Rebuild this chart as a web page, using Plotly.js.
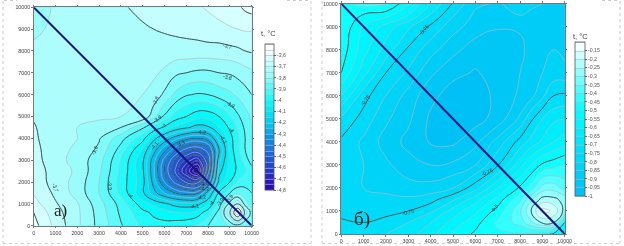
<!DOCTYPE html>
<html><head><meta charset="utf-8">
<script src="https://cdn.plot.ly/plotly-3.0.1.min.js"></script>
<style>html,body{margin:0;padding:0;background:#fff;overflow:hidden}#c{width:624px;height:246px;filter:blur(0.5px)}</style>
</head><body><div id="c"></div>
<script>
var leftX=[0,1000,2000,3000,4000,5000,5500,6000,6500,7000,7500,8000,8500,9000,9350,9700,10000];
var leftY=[0,600,1000,1500,2000,2500,3000,3500,4000,4500,5000,6000,7000,8000,9000,10000];
var leftZ=[
[-3.58,-3.665,-3.74,-3.815,-3.895,-3.96,-3.98,-3.98,-3.97,-3.96,-3.94,-3.9,-3.88,-3.84,-3.82,-3.85,-3.85],
[-3.6,-3.68,-3.74,-3.82,-3.91,-3.985,-4.01,-4.03,-4.045,-4.05,-4.03,-3.97,-3.88,-3.7,-3.5,-3.72,-3.82],
[-3.63,-3.695,-3.745,-3.83,-3.92,-4.03,-4.06,-4.09,-4.12,-4.13,-4.12,-4.05,-3.93,-3.78,-3.7,-3.82,-3.88],
[-3.655,-3.71,-3.77,-3.85,-3.96,-4.09,-4.18,-4.25,-4.3,-4.33,-4.32,-4.17,-3.99,-3.9,-3.86,-3.88,-3.9],
[-3.67,-3.72,-3.77,-3.85,-3.97,-4.08,-4.22,-4.35,-4.47,-4.56,-4.58,-4.37,-4.08,-4.0,-3.94,-3.92,-3.93],
[-3.675,-3.72,-3.76,-3.84,-3.96,-4.09,-4.24,-4.4,-4.56,-4.71,-4.86,-4.48,-4.12,-4.03,-3.99,-3.95,-3.92],
[-3.68,-3.73,-3.77,-3.83,-3.95,-4.09,-4.23,-4.37,-4.51,-4.62,-4.69,-4.5,-4.16,-4.04,-3.98,-3.92,-3.88],
[-3.685,-3.73,-3.76,-3.81,-3.92,-4.05,-4.17,-4.28,-4.38,-4.46,-4.49,-4.42,-4.2,-4.03,-3.96,-3.9,-3.85],
[-3.69,-3.735,-3.75,-3.795,-3.88,-3.98,-4.08,-4.16,-4.23,-4.28,-4.3,-4.27,-4.13,-4.02,-3.96,-3.9,-3.85],
[-3.695,-3.735,-3.75,-3.77,-3.8,-3.89,-3.96,-4.01,-4.06,-4.09,-4.12,-4.11,-4.05,-3.99,-3.94,-3.89,-3.85],
[-3.705,-3.74,-3.745,-3.74,-3.75,-3.76,-3.83,-3.91,-3.97,-4.0,-4.03,-4.03,-4.0,-3.95,-3.91,-3.87,-3.84],
[-3.72,-3.73,-3.73,-3.73,-3.735,-3.75,-3.77,-3.81,-3.86,-3.895,-3.905,-3.9,-3.88,-3.86,-3.84,-3.82,-3.8],
[-3.73,-3.73,-3.73,-3.73,-3.73,-3.735,-3.74,-3.76,-3.79,-3.8,-3.81,-3.81,-3.8,-3.795,-3.785,-3.77,-3.76],
[-3.74,-3.73,-3.725,-3.72,-3.72,-3.72,-3.72,-3.72,-3.72,-3.72,-3.72,-3.72,-3.72,-3.715,-3.71,-3.7,-3.695],
[-3.76,-3.74,-3.72,-3.715,-3.71,-3.705,-3.7,-3.695,-3.69,-3.685,-3.68,-3.67,-3.665,-3.655,-3.65,-3.645,-3.645],
[-3.79,-3.74,-3.72,-3.71,-3.705,-3.69,-3.68,-3.675,-3.67,-3.66,-3.655,-3.645,-3.63,-3.62,-3.61,-3.59,-3.58]
];
var rightX=[0,1000,2000,3000,4000,5000,6000,7000,8000,8500,9000,9500,10000];
var rightY=[0,500,1000,1500,2000,3000,4000,5000,6000,7000,8000,9000,9500,10000];
var rightZ=[
[-0.73,-0.73,-0.7,-0.67,-0.62,-0.54,-0.49,-0.46,-0.455,-0.46,-0.48,-0.51,-0.56],
[-0.745,-0.75,-0.73,-0.7,-0.65,-0.58,-0.52,-0.44,-0.38,-0.31,-0.24,-0.25,-0.5],
[-0.76,-0.77,-0.77,-0.75,-0.71,-0.63,-0.56,-0.48,-0.36,-0.25,-0.13,-0.16,-0.27],
[-0.77,-0.79,-0.79,-0.79,-0.77,-0.71,-0.62,-0.53,-0.41,-0.31,-0.23,-0.235,-0.27],
[-0.78,-0.8,-0.81,-0.83,-0.83,-0.8,-0.72,-0.6,-0.49,-0.42,-0.33,-0.32,-0.37],
[-0.77,-0.8,-0.84,-0.88,-0.9,-0.89,-0.85,-0.755,-0.62,-0.55,-0.49,-0.47,-0.45],
[-0.76,-0.81,-0.87,-0.915,-0.955,-0.96,-0.915,-0.83,-0.73,-0.68,-0.64,-0.6,-0.57],
[-0.71,-0.77,-0.84,-0.89,-0.96,-0.985,-0.97,-0.93,-0.84,-0.76,-0.7,-0.66,-0.65],
[-0.6,-0.73,-0.8,-0.87,-0.935,-0.975,-0.97,-0.94,-0.89,-0.865,-0.81,-0.75,-0.74],
[-0.5,-0.63,-0.75,-0.81,-0.89,-0.935,-0.955,-0.93,-0.9,-0.875,-0.85,-0.83,-0.83],
[-0.47,-0.58,-0.67,-0.76,-0.83,-0.885,-0.925,-0.935,-0.91,-0.885,-0.865,-0.85,-0.87],
[-0.46,-0.55,-0.62,-0.69,-0.76,-0.83,-0.875,-0.895,-0.895,-0.875,-0.865,-0.865,-0.87],
[-0.46,-0.505,-0.53,-0.6,-0.705,-0.795,-0.86,-0.88,-0.85,-0.86,-0.865,-0.87,-0.865],
[-0.47,-0.43,-0.44,-0.54,-0.65,-0.755,-0.84,-0.855,-0.83,-0.84,-0.85,-0.86,-0.86]
];
var diagX=[0,10000], diagY=[10000,0];
var leftBarVals=[-3.6,-3.7,-3.8,-3.9,-4,-4.1,-4.2,-4.3,-4.4,-4.5,-4.6,-4.7,-4.8];
var leftBarText=["-3,6","-3,7","-3,8","-3,9","-4","-4,1","-4,2","-4,3","-4,4","-4,5","-4,6","-4,7","-4,8"];
var rightBarVals=[-0.15,-0.2,-0.25,-0.3,-0.35,-0.4,-0.45,-0.5,-0.55,-0.6,-0.65,-0.7,-0.75,-0.8,-0.85,-0.9,-0.95,-1];
var rightBarText=["-0,15","-0,2","-0,25","-0,3","-0,35","-0,4","-0,45","-0,5","-0,55","-0,6","-0,65","-0,7","-0,75","-0,8","-0,85","-0,9","-0,95","-1"];
var leftLabels=[
["-3,7",8900,8244,18],["-3,8",8900,6794,15],["-3,9",9006,5557,30],["-3,8",5566,5710,-65],["-3,9",5673,4870,-40],
["-4",5948,4580,-40],["-4",9083,4366,50],["-4,1",8700,3954,60],["-4,2",7676,4275,5],["-4,3",6713,3756,-30],
["-4,1",5520,3649,-50],["-3,8",2768,3435,-70],["-3,9",3517,1832,85],["-4",4465,1420,55],["-3,7",979,1756,70],
["-4,4",7813,1893,0],["-4,3",7813,1664,0],["-4,2",7676,1328,-5],["-4,1",7355,916,-8],["-4",8135,1023,-45],
["-3,9",8547,1069,-55],["-3,8",8976,1221,-60]];
var rightLabels=[["-0,75",3687,8857,-50],["-0,75",1075,5818,-50],["-0,75",6522,2706,-25],["-0,75",2970,970,-15],["-0,5",6866,1114,-50]];

var leftScale=[[0,'rgb(45,0,190)'],[0.0769,'rgb(40,30,195)'],[0.1538,'rgb(35,60,205)'],[0.2308,'rgb(30,90,215)'],[0.3077,'rgb(25,120,225)'],[0.3846,'rgb(10,150,230)'],[0.4615,'rgb(0,195,240)'],[0.5385,'rgb(0,225,245)'],[0.6154,'rgb(0,250,250)'],[0.6538,'rgb(30,250,250)'],[0.6923,'rgb(60,250,250)'],[0.7308,'rgb(90,250,250)'],[0.7692,'rgb(120,250,250)'],[0.8077,'rgb(150,252,252)'],[0.8462,'rgb(165,253,253)'],[0.8846,'rgb(190,254,254)'],[0.9231,'rgb(205,255,255)'],[1,'rgb(255,255,255)']];
var rightScale=[[0,'rgb(0,190,245)'],[0.2778,'rgb(0,220,250)'],[0.5556,'rgb(0,255,255)'],[0.7778,'rgb(130,255,255)'],[0.9444,'rgb(225,255,255)'],[1,'rgb(255,255,255)']];

var W=624,H=246;
function dx(a,b){return [a/W,b/W];}
function dy(top,bot){return [1-bot/H,1-top/H];}
var GREY='rgba(170,190,195,0.85)', DARK='#37595f';
var barFont={family:'Liberation Sans',size:5.2,color:'#555'};
var data=[
{type:'contour',x:leftX,y:leftY,z:leftZ,xaxis:'x',yaxis:'y',zmin:-4.8,zmax:-3.5,autocontour:false,colorscale:leftScale,
 contours:{start:-4.8,end:-3.5,size:0.05,coloring:'fill'},line:{color:GREY,width:0.8,smoothing:1.3},hoverinfo:'skip',
 colorbar:{x:265/W,xanchor:'left',xpad:0,ypad:0,y:1-44/H,yanchor:'top',lenmode:'pixels',len:146,thicknessmode:'pixels',thickness:9,
  tickmode:'array',tickvals:leftBarVals,ticktext:leftBarText,ticks:'outside',ticklen:2,tickcolor:'#666',tickfont:barFont,outlinecolor:'#555',outlinewidth:0.8}},
{type:'contour',x:leftX,y:leftY,z:leftZ,xaxis:'x',yaxis:'y',autocontour:false,showscale:false,
 contours:{start:-4.8,end:-3.6,size:0.1,coloring:'none'},line:{color:DARK,width:1,smoothing:1.3},hoverinfo:'skip'},
{type:'scatter',mode:'lines',x:diagX,y:diagY,xaxis:'x',yaxis:'y',line:{color:'#16167f',width:2},hoverinfo:'skip',showlegend:false},
{type:'contour',x:rightX,y:rightY,z:rightZ,xaxis:'x2',yaxis:'y2',zmin:-1,zmax:-0.1,autocontour:false,colorscale:rightScale,
 contours:{start:-1,end:-0.1,size:0.05,coloring:'fill'},line:{color:GREY,width:0.8,smoothing:1.3},hoverinfo:'skip',
 colorbar:{x:575.3/W,xanchor:'left',xpad:0,ypad:0,y:1-42/H,yanchor:'top',lenmode:'pixels',len:154,thicknessmode:'pixels',thickness:9.7,
  tickmode:'array',tickvals:rightBarVals,ticktext:rightBarText,ticks:'outside',ticklen:2,tickcolor:'#666',tickfont:barFont,outlinecolor:'#555',outlinewidth:0.8}},
{type:'contour',x:rightX,y:rightY,z:rightZ,xaxis:'x2',yaxis:'y2',autocontour:false,showscale:false,
 contours:{start:-0.75,end:-0.25,size:0.25,coloring:'none'},line:{color:DARK,width:1,smoothing:1.3},hoverinfo:'skip'},
{type:'scatter',mode:'lines',x:diagX,y:diagY,xaxis:'x2',yaxis:'y2',line:{color:'#16167f',width:2},hoverinfo:'skip',showlegend:false}
];
function ax(domain,anchor){return {domain:domain,anchor:anchor,range:[0,10000],tickmode:'linear',tick0:0,dtick:1000,ticks:'outside',ticklen:1.5,tickwidth:1,tickcolor:'#777',
 showline:true,linecolor:'#777',linewidth:1,mirror:'allticks',showgrid:false,zeroline:false,tickangle:0,tickformat:'d',tickfont:{family:'Liberation Sans',size:5.3,color:'#444'},automargin:false};}
var ann=[];
function addLabels(list,xr,yr){list.forEach(function(l){ann.push({text:l[0],x:l[1],y:l[2],xref:xr,yref:yr,textangle:l[3],showarrow:false,xanchor:'center',yanchor:'middle',font:{family:'Liberation Sans',size:5.2,color:'#333'}});});}
addLabels(leftLabels,'x','y');addLabels(rightLabels,'x2','y2');
function txt(t,px,py,fam,size,col){ann.push({text:t,x:px/W,y:1-py/H,xref:'paper',yref:'paper',showarrow:false,xanchor:'center',yanchor:'middle',font:{family:fam,size:size,color:col}});}
txt('t, °C',268.7,34,'Liberation Sans',7.5,'#444');
txt('t, °C',580,36,'Liberation Sans',7.5,'#444');
txt('а)',60,210,'Liberation Serif',17,'#222');
txt('б)',362,219,'Liberation Serif',19,'#222');
function frame(x0,y0,x1,y1){return {type:'line',xref:'paper',yref:'paper',x0:x0/W,y0:1-y0/H,x1:x1/W,y1:1-y1/H,line:{color:'#ccc',width:1,dash:'dot'}};}
var layout={width:W,height:H,margin:{l:0,r:0,t:0,b:0,autoexpand:false},paper_bgcolor:'#fff',plot_bgcolor:'#fff',showlegend:false,separators:', ',
 xaxis:ax(dx(33.7,251.7),'y'),yaxis:ax(dy(7.3,225.7),'x'),xaxis2:ax(dx(341.3,564.7),'y2'),yaxis2:ax(dy(3.7,234),'x2'),annotations:ann,
 shapes:[frame(3,1,3,243.5),frame(3,243.5,311,243.5),frame(311,1,311,243.5),frame(4,0.5,17,0.5),frame(287,0.5,310,0.5),frame(322,1,322,243.5),frame(322,243.5,620,243.5),frame(620,1,620,243.5),frame(602,0.5,620,0.5)]};
Plotly.newPlot('c',data,layout,{staticPlot:true,displayModeBar:false});
</script></body></html>
